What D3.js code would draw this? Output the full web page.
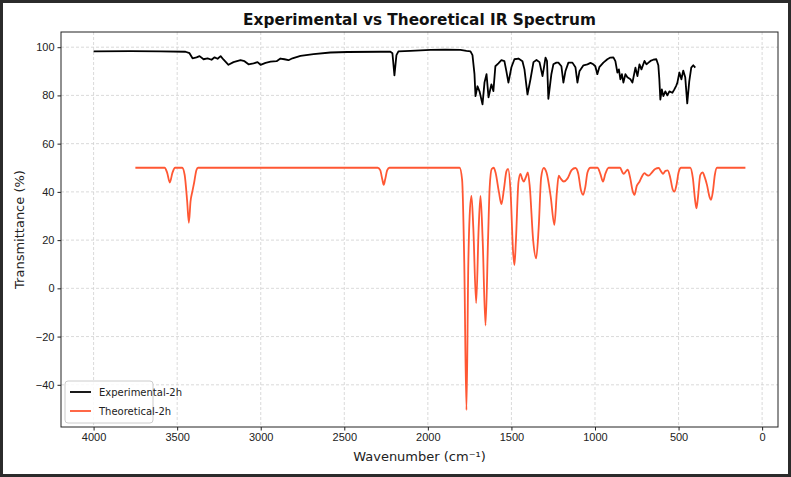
<!DOCTYPE html>
<html>
<head>
<meta charset="utf-8">
<script src="https://d3js.org/d3.v7.min.js"></script>
<style>
  body { margin: 0; background: #fff; }
  svg { display: block; font-family: "DejaVu Sans", sans-serif; }
  .grid line { stroke: #d0d0d0; stroke-dasharray: 3,2; stroke-width: 0.8; }
  .axis text { font-size: 11px; fill: #222; }
  .axis path, .axis line { stroke: #222; }
</style>
</head>
<body>
<div id="chart"></div>
<script>
// experimental spectrum: [wavenumber, transmittance %]
var expData = [
  [4000, 98.3], [3779, 98.4], [3599, 98.3], [3450, 98.1], [3426, 97.5], [3408, 95.4],
  [3384, 95.8], [3366, 96.3], [3342, 95.0], [3318, 95.4], [3294, 94.8], [3276, 95.8],
  [3258, 95.2], [3240, 96.3], [3222, 94.8], [3193, 92.7], [3163, 93.8], [3121, 94.6],
  [3097, 94.2], [3073, 92.9], [3043, 93.3], [3019, 93.8], [3001, 92.7], [2971, 93.5],
  [2941, 94.0], [2905, 94.2], [2882, 95.3], [2858, 95.0], [2834, 94.6], [2810, 95.4],
  [2762, 96.4], [2684, 97.1], [2583, 97.8], [2481, 98.0], [2284, 98.1], [2224, 98.1],
  [2212, 97.5], [2200, 88.3], [2188, 96.7], [2176, 98.3], [2104, 98.5], [1984, 98.9],
  [1895, 99.0], [1805, 98.9], [1769, 98.5], [1745, 98.3], [1733, 96.7], [1721, 88.8],
  [1715, 79.7], [1703, 83.8], [1691, 81.7], [1673, 76.3], [1661, 85.4], [1649, 88.8],
  [1637, 79.2], [1620, 84.6], [1608, 81.8], [1596, 92.1], [1578, 93.3], [1560, 94.6],
  [1542, 94.2], [1530, 90.0], [1518, 85.3], [1500, 91.7], [1482, 95.0], [1458, 95.3],
  [1434, 94.2], [1422, 90.8], [1404, 80.4], [1386, 86.7], [1368, 93.8], [1350, 94.7],
  [1332, 93.8], [1314, 88.0], [1305, 91.7], [1296, 95.7], [1287, 94.2], [1279, 78.6],
  [1261, 88.8], [1249, 92.9], [1231, 93.6], [1219, 93.6], [1201, 92.1], [1189, 85.3],
  [1177, 90.0], [1159, 93.6], [1135, 93.6], [1117, 91.7], [1105, 85.3], [1093, 90.0],
  [1069, 92.5], [1045, 92.9], [1027, 93.5], [1010, 92.9], [998, 92.1], [986, 88.8],
  [974, 91.7], [950, 93.6], [926, 95.0], [908, 95.7], [890, 95.8], [878, 94.2],
  [866, 89.5], [857, 90.8], [848, 86.7], [839, 88.8], [830, 85.3], [818, 88.8],
  [806, 87.5], [788, 86.7], [776, 85.3], [758, 91.5], [746, 88.0], [734, 92.9],
  [722, 90.8], [704, 94.3], [692, 92.9], [680, 93.6], [668, 94.3], [651, 94.8],
  [633, 95.0], [621, 92.5], [615, 86.7], [609, 78.3], [600, 82.5], [591, 79.7],
  [579, 81.7], [567, 80.0], [555, 81.7], [537, 81.1], [525, 82.5], [513, 84.2],
  [507, 85.3], [495, 89.5], [483, 86.7], [472, 90.3], [460, 87.5], [448, 76.7],
  [436, 85.8], [424, 91.5], [412, 92.5], [400, 91.5]
];

// theoretical spectrum: [wavenumber, transmittance %]
var theoData = [
  [3750, 50], [3575, 50], [3560, 48], [3544, 43.9], [3528, 48], [3512, 50],
  [3470, 50], [3455, 47], [3440, 36], [3430, 27.2], [3420, 36], [3408, 40.5],
  [3398, 44], [3385, 49], [3375, 50], [2300, 50], [2285, 49], [2272, 45],
  [2264, 42.9], [2256, 45], [2243, 49], [2230, 50], [1810, 50], [1795, 45],
  [1782, 10], [1769, -50.5], [1758, 10], [1750, 30], [1739, 38.3], [1728, 25],
  [1711, -6.1], [1696, 25], [1685, 38.3], [1672, 20], [1655, -15.4], [1640, 20],
  [1630, 42], [1618, 49.5], [1606, 50], [1595, 48], [1575, 40], [1560, 34.9],
  [1545, 41], [1530, 48.5], [1520, 49.5], [1505, 40], [1490, 15], [1482, 9.6],
  [1473, 20], [1458, 44], [1446, 47.5], [1436, 45.5], [1426, 44.3], [1414, 46],
  [1402, 48.1], [1390, 42], [1370, 20], [1352, 12.4], [1337, 25], [1322, 46],
  [1307, 49.9], [1290, 48], [1265, 38], [1243, 26.3], [1228, 40], [1217, 46.7],
  [1205, 45.5], [1187, 44.3], [1165, 45.5], [1140, 49], [1117, 49.9], [1100, 47.5],
  [1085, 41], [1071, 38.8], [1058, 42], [1045, 48], [1027, 50], [985, 50],
  [968, 47.5], [952, 44.3], [938, 47.5], [918, 50], [850, 50], [835, 48],
  [828, 47.5], [815, 48.5], [804, 49.2], [790, 46], [775, 40.5], [764, 38.8],
  [750, 42.5], [733, 44.3], [718, 46.5], [705, 47.8], [690, 47], [679, 46.7],
  [660, 48], [640, 49.5], [619, 49.9], [605, 48.5], [593, 47.5], [578, 48.7],
  [565, 48.9], [550, 46], [535, 41], [525, 40.1], [512, 43], [500, 48],
  [485, 50], [430, 50], [415, 46], [400, 36], [393, 33.2], [385, 37],
  [370, 47], [356, 48.1], [343, 46], [330, 42.9], [315, 38], [306, 36.7],
  [295, 40], [283, 47], [270, 50], [100, 50]
];

var xTicks = [4000, 3500, 3000, 2500, 2000, 1500, 1000, 500, 0];
var yTicks = [-40, -20, 0, 20, 40, 60, 80, 100];
var seriesNames = ["Experimental-2h", "Theoretical-2h"];
var seriesColors = ["#000000", "#ff5733"];

var W = 791, H = 477;
var m = {left: 61, right: 778, top: 32, bottom: 427};

var svg = d3.select("#chart").append("svg")
    .attr("width", W)
    .attr("height", H);

svg.append("rect")
    .attr("x", 1.5).attr("y", 1.5)
    .attr("width", W - 3).attr("height", H - 3)
    .attr("fill", "#fff")
    .attr("stroke", "#2b2b2b")
    .attr("stroke-width", 3);

var x = d3.scaleLinear().domain([4195, -95]).range([m.left, m.right]);
var y = d3.scaleLinear().domain([-57.5, 106.3]).range([m.bottom, m.top]);

// grid
var grid = svg.append("g").attr("class", "grid");
grid.selectAll(".gx").data(xTicks).enter().append("line")
    .attr("x1", d => x(d)).attr("x2", d => x(d))
    .attr("y1", m.top).attr("y2", m.bottom);
grid.selectAll(".gy").data(yTicks).enter().append("line")
    .attr("x1", m.left).attr("x2", m.right)
    .attr("y1", d => y(d)).attr("y2", d => y(d));

// lines
var line = d3.line()
    .x(d => x(d[0]))
    .y(d => y(d[1]));

svg.append("path")
    .datum(expData)
    .attr("fill", "none")
    .attr("stroke", seriesColors[0])
    .attr("stroke-width", 1.8)
    .attr("stroke-linejoin", "round")
    .attr("d", line);

svg.append("path")
    .datum(theoData)
    .attr("fill", "none")
    .attr("stroke", seriesColors[1])
    .attr("stroke-width", 1.8)
    .attr("d", line.curve(d3.curveMonotoneX));

// axes
svg.append("g")
    .attr("class", "axis")
    .attr("transform", "translate(0," + m.bottom + ")")
    .call(d3.axisBottom(x).tickValues(xTicks).tickFormat(d3.format("d")).tickSize(3.5).tickPadding(3));

svg.append("g")
    .attr("class", "axis")
    .attr("transform", "translate(" + m.left + ",0)")
    .call(d3.axisLeft(y).tickValues(yTicks).tickSize(3.5).tickPadding(3));

svg.selectAll(".axis .domain").remove();

// frame
svg.append("rect")
    .attr("x", m.left).attr("y", m.top)
    .attr("width", m.right - m.left).attr("height", m.bottom - m.top)
    .attr("fill", "none")
    .attr("stroke", "#222")
    .attr("stroke-width", 1);

// titles
svg.append("text")
    .attr("x", (m.left + m.right) / 2).attr("y", 25)
    .attr("text-anchor", "middle")
    .attr("font-size", "15.3px")
    .attr("font-weight", "bold")
    .attr("fill", "#111")
    .text("Experimental vs Theoretical IR Spectrum");

svg.append("text")
    .attr("x", (m.left + m.right) / 2).attr("y", 461)
    .attr("text-anchor", "middle")
    .attr("font-size", "13px")
    .attr("fill", "#222")
    .text("Wavenumber (cm\u207B\u00B9)");

svg.append("text")
    .attr("transform", "translate(24," + (m.top + m.bottom) / 2 + ") rotate(-90)")
    .attr("text-anchor", "middle")
    .attr("font-size", "13px")
    .attr("fill", "#222")
    .text("Transmittance (%)");

// legend
var lg = svg.append("g").attr("transform", "translate(65,381)");
lg.append("rect")
    .attr("width", 88).attr("height", 42)
    .attr("rx", 3)
    .attr("fill", "#fff").attr("fill-opacity", 0.85)
    .attr("stroke", "#ccc");
seriesNames.forEach(function(name, i) {
    var yy = 11 + i * 19;
    lg.append("line")
        .attr("x1", 5).attr("x2", 26)
        .attr("y1", yy).attr("y2", yy)
        .attr("stroke", seriesColors[i])
        .attr("stroke-width", 1.8);
    lg.append("text")
        .attr("x", 34).attr("y", yy + 3.5)
        .attr("font-size", "10px")
        .attr("fill", "#222")
        .text(name);
});
</script>
</body>
</html>
